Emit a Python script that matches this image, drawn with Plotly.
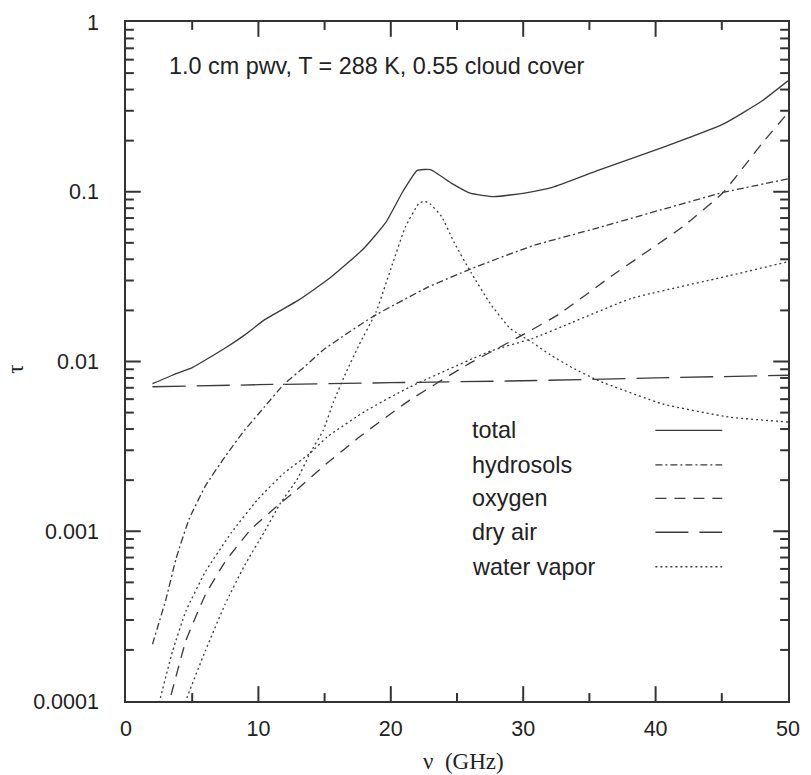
import plotly.graph_objects as go

# Opacity contributions vs frequency (GHz)
freq_total = [2, 3.5, 5, 7.5, 9, 10.5, 13, 15.4, 17.9, 19.6, 20.9, 22.0, 23.0, 24.6, 26.0, 27.8, 30.2, 32.2, 35.7, 40.6, 45.1, 48.0, 50]
tau_total = [0.0074, 0.0083, 0.0092, 0.012, 0.0144, 0.0177, 0.0229, 0.031, 0.0458, 0.0655, 0.1, 0.1336, 0.135, 0.112, 0.098, 0.0935, 0.0986, 0.106, 0.134, 0.183, 0.25, 0.341, 0.45]

freq_hydro = [2, 3.04, 3.78, 4.77, 6.0, 7.48, 8.96, 10.44, 11.93, 13.4, 14.9, 18.6, 22.8, 26, 30.7, 35.7, 40.6, 45.1, 50]
tau_hydro = [0.000216, 0.000404, 0.00069, 0.00118, 0.00185, 0.00275, 0.00394, 0.00538, 0.00735, 0.00918, 0.0117, 0.0183, 0.0274, 0.035, 0.048, 0.0615, 0.079, 0.099, 0.119]

freq_oxygen = [3.0, 3.28, 4.52, 6.0, 7.48, 9.46, 11.43, 12.91, 14.9, 17.65, 21.4, 25.8, 30, 32.7, 36.7, 42.1, 45.1, 48, 50]
tau_oxygen = [0.000085, 0.0001, 0.000226, 0.000423, 0.00066, 0.00103, 0.00141, 0.00176, 0.00241, 0.0036, 0.0059, 0.0096, 0.0144, 0.019, 0.032, 0.0626, 0.099, 0.191, 0.292]

freq_dry = [2, 10, 20, 30, 40, 50]
tau_dry = [0.0071, 0.0073, 0.0075, 0.0077, 0.0080, 0.0083]

freq_wv_line = [4.3, 4.52, 6.0, 7.48, 8.96, 10.44, 11.68, 12.91, 13.9, 14.9, 15.68, 16.67, 17.6, 18.89, 20.1, 21.1, 22.1, 22.5, 22.96, 23.83, 24.8, 26.05, 27.5, 29.0, 30.74, 32.0, 33.7, 35.7, 40.6, 45.6, 50]
tau_wv_line = [0.00008, 0.0001, 0.000198, 0.000371, 0.00063, 0.00099, 0.00147, 0.00201, 0.00288, 0.00394, 0.0058, 0.0088, 0.0125, 0.0196, 0.037, 0.062, 0.085, 0.088, 0.085, 0.0716, 0.050, 0.0335, 0.022, 0.0157, 0.01285, 0.011, 0.0092, 0.0077, 0.0056, 0.0047, 0.0044]

freq_wv_cont = [2.3, 2.54, 3.53, 4.52, 6.0, 7.98, 9.95, 11.93, 13.9, 15.2, 18.15, 21.36, 27.5, 30.74, 33.7, 38.15, 45.55, 50]
tau_wv_cont = [0.00008, 0.0001, 0.000198, 0.000338, 0.000578, 0.000987, 0.00154, 0.0022, 0.00288, 0.0036, 0.00514, 0.00703, 0.0115, 0.0137, 0.017, 0.0235, 0.032, 0.0387]

legend_labels = ["total", "hydrosols", "oxygen", "dry air", "water vapor"]
x_ticks = [0, 10, 20, 30, 40, 50]
x_minor = [5, 15, 25, 35, 45]
y_ticks = [0.0001, 0.001, 0.01, 0.1, 1]
y_tick_text = ["0.0001", "0.001", "0.01", "0.1", "1"]
y_minor = [m * 10 ** e for e in range(-4, 0) for m in range(2, 10)]

X_RANGE = [0, 50]
LOG_RANGE = [-4, 0]

W, H = 811, 775
MARGIN = dict(l=126, r=11, t=13, b=74)
PX_PER_GHZ = (W - MARGIN["l"] - MARGIN["r"]) / (X_RANGE[1] - X_RANGE[0])
PX_PER_DECADE = (H - MARGIN["t"] - MARGIN["b"]) / (LOG_RANGE[1] - LOG_RANGE[0])

LINE = "#3a3a3a"
AXIS = "#333"
DASH = {
    "total": "solid",
    "hydrosols": "7px,3px,2px,3px",
    "oxygen": "11px,8px",
    "dry air": "33px,11px",
    "water vapor": "2px,3px",
}

fig = go.Figure()

def add(x, y, style):
    fig.add_trace(go.Scatter(
        x=x, y=y, mode="lines", showlegend=False, hoverinfo="skip",
        line=dict(color=LINE, width=1.3, dash=DASH[style], shape="spline", smoothing=0.4),
    ))

add(freq_total, tau_total, "total")
add(freq_hydro, tau_hydro, "hydrosols")
add(freq_oxygen, tau_oxygen, "oxygen")
add(freq_dry, tau_dry, "dry air")
add(freq_wv_line, tau_wv_line, "water vapor")
add(freq_wv_cont, tau_wv_cont, "water vapor")

# inward tick marks on all four sides (lengths given in pixels)
tx, ty = [], []
y_lo, y_hi = 10 ** LOG_RANGE[0], 10 ** LOG_RANGE[1]
for vals, length in ((x_ticks[1:-1], 15), (x_minor, 8)):
    f = 10 ** (length / PX_PER_DECADE)
    for v in vals:
        tx += [v, v, None, v, v, None]
        ty += [y_lo, y_lo * f, None, y_hi, y_hi / f, None]
for vals, length in ((y_ticks[1:-1], 15), (y_minor, 8)):
    d = length / PX_PER_GHZ
    for v in vals:
        tx += [X_RANGE[0], X_RANGE[0] + d, None, X_RANGE[1], X_RANGE[1] - d, None]
        ty += [v, v, None, v, v, None]
fig.add_trace(go.Scatter(x=tx, y=ty, mode="lines", showlegend=False, hoverinfo="skip",
                         line=dict(color=AXIS, width=2)))

TICK_FONT = dict(family="Liberation Sans, Arial, sans-serif", size=21.5, color="#222")
SERIF = dict(family="Liberation Serif, Times New Roman, serif", size=23, color="#222")
LABEL_FONT = dict(family="Liberation Sans, Arial, sans-serif", size=23.4, color="#222")

fig.update_xaxes(
    range=X_RANGE, tickmode="array", tickvals=x_ticks, ticks="",
    showline=True, linecolor=AXIS, linewidth=1.6, mirror=True,
    showgrid=False, zeroline=False, tickfont=TICK_FONT, ticklabelstandoff=7,
)
fig.update_yaxes(
    type="log", range=LOG_RANGE, tickmode="array", tickvals=y_ticks, ticktext=y_tick_text,
    ticks="", showline=True, linecolor=AXIS, linewidth=1.6, mirror=True,
    showgrid=False, zeroline=False, tickfont=TICK_FONT, ticklabelstandoff=21,
)

annotations = [
    dict(text="1.0 cm pwv, T = 288 K, 0.55 cloud cover", xref="paper", yref="paper",
         x=0.0623, y=0.9346, xanchor="left", yanchor="middle", showarrow=False, font=LABEL_FONT),
    dict(text="ν  (GHz)", xref="paper", yref="paper", x=0.510, y=-0.0887,
         xanchor="center", yanchor="middle", showarrow=False, font=SERIF),
    dict(text="τ", xref="paper", yref="paper", x=-0.166, y=0.488, textangle=-90,
         xanchor="center", yanchor="middle", showarrow=False, font=SERIF),
]
shapes = []

# legend rows: label on the left, line sample on the right
row_y = [0.3987, 0.3478, 0.2984, 0.2485, 0.1977]
for label, yy in zip(legend_labels, row_y):
    annotations.append(dict(
        text=label, xref="paper", yref="paper", x=0.519, y=yy,
        xanchor="left", yanchor="middle", showarrow=False, font=LABEL_FONT,
    ))
    shapes.append(dict(
        type="line", xref="paper", yref="paper", x0=0.7997, x1=0.9006, y0=yy, y1=yy,
        line=dict(color=LINE, width=1.3, dash=DASH[label]),
    ))

fig.update_layout(
    width=W, height=H,
    margin=MARGIN,
    plot_bgcolor="white", paper_bgcolor="white",
    annotations=annotations, shapes=shapes,
    showlegend=False,
)

fig.write_html("out.html")
